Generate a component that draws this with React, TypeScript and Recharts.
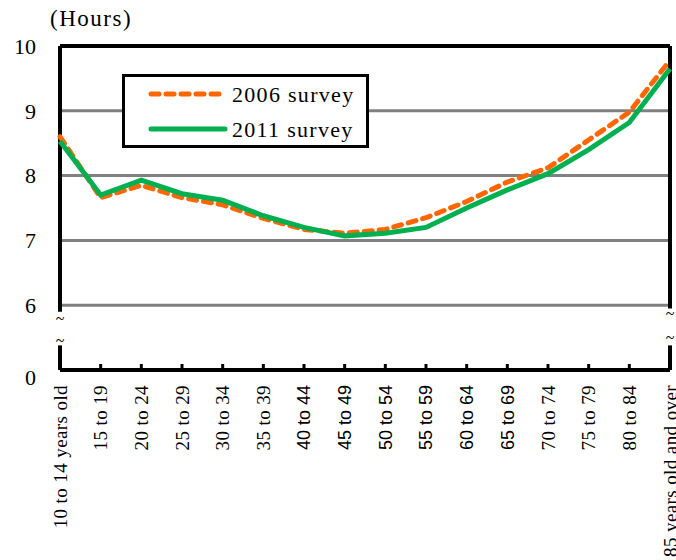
import React from 'react';
import {
  LineChart,
  Line,
  XAxis,
  YAxis,
  CartesianGrid,
  ReferenceLine,
  ReferenceDot,
  Legend,
} from 'recharts';

const ageGroups = [
  '10 to 14 years old',
  '15 to 19',
  '20 to 24',
  '25 to 29',
  '30 to 34',
  '35 to 39',
  '40 to 44',
  '45 to 49',
  '50 to 54',
  '55 to 59',
  '60 to 64',
  '65 to 69',
  '70 to 74',
  '75 to 79',
  '80 to 84',
  '85 years old and over',
];
const survey2006 = [8.6, 7.66, 7.85, 7.66, 7.55, 7.34, 7.17, 7.11, 7.17, 7.35, 7.6, 7.9, 8.12, 8.55, 8.98, 9.78];
const survey2011 = [8.53, 7.7, 7.93, 7.72, 7.62, 7.38, 7.2, 7.07, 7.11, 7.2, 7.5, 7.78, 8.03, 8.4, 8.82, 9.65];
const yTicks = [5, 6, 7, 8, 9, 10];
// these labels came out in a sans face in the original
const sansLabels = ['40 to 44', '45 to 49', '50 to 54', '55 to 59', '60 to 64', '65 to 69'];

const serif = '"Liberation Serif", "Times New Roman", serif';
const sans = '"Liberation Sans", Arial, sans-serif';
const ORANGE = '#FF6600';
const GREEN = '#00B050';

const data = ageGroups.map((age, i) => ({ age, s2006: survey2006[i], s2011: survey2011[i] }));
const first = ageGroups[0];
const last = ageGroups[ageGroups.length - 1];

const AgeTick = (props: any) => {
  const { x, y, payload } = props;
  const isSans = sansLabels.includes(payload.value);
  const ty = y + 15;
  return (
    <g>
      <line x1={x} y1={y - 6} x2={x} y2={y} stroke="#000" strokeWidth={3} />
      <text
        x={x}
        y={ty}
        transform={`rotate(-90 ${x} ${ty})`}
        textAnchor="end"
        dy="0.35em"
        fill="#000"
        fontFamily={isSans ? sans : serif}
        fontSize={isSans ? 18 : 19}
        letterSpacing={isSans ? 0 : 0.4}
      >
        {payload.value}
      </text>
    </g>
  );
};

const HourTick = (props: any) => {
  const { x, y, payload } = props;
  const v = payload.value;
  return (
    <text x={x} y={y + (v === 5 ? 7 : 0)} dy="0.35em" textAnchor="end" fill="#000" fontFamily={serif} fontSize={22}>
      {v === 5 ? '0' : String(v)}
    </text>
  );
};

const Tilde = (props: any) => (
  <text x={props.cx} y={props.cy} dy="0.35em" textAnchor="middle" fontFamily={serif} fontSize={16} fill="#000">
    ~
  </text>
);

const LegendBox = () => (
  <div style={{ width: 241, height: 68, border: '3px solid #000', background: '#fff' }}>
    <svg width={241} height={68} style={{ display: 'block' }}>
      <line x1={26} y1={17} x2={100} y2={17} stroke={ORANGE} strokeWidth={5} strokeDasharray="8 7" strokeLinecap="round" />
      <line x1={26} y1={52} x2={100} y2={52} stroke={GREEN} strokeWidth={5} strokeLinecap="round" />
      <text x={107} y={17} dy="0.35em" fontFamily={serif} fontSize={22} letterSpacing={1.3} fill="#000">2006 survey</text>
      <text x={107} y={52} dy="0.35em" fontFamily={serif} fontSize={22} letterSpacing={1.3} fill="#000">2011 survey</text>
    </svg>
  </div>
);

export default function App() {
  return (
    <div style={{ position: 'absolute', left: 0, top: 0, width: 676, height: 560, background: '#fff' }}>
      <div
        style={{
          position: 'absolute',
          left: 50,
          top: 6,
          fontFamily: serif,
          fontSize: 23,
          letterSpacing: 1.5,
          color: '#000',
          zIndex: 2,
        }}
      >
        (Hours)
      </div>
      <LineChart width={676} height={560} data={data} margin={{ top: 46, right: 6, bottom: 10, left: 0 }}>
        <CartesianGrid vertical={false} stroke="#808080" strokeWidth={3} />
        <XAxis
          dataKey="age"
          interval={0}
          height={180}
          tickSize={0}
          tickMargin={0}
          tickLine={false}
          axisLine={{ stroke: '#000', strokeWidth: 4 }}
          tick={<AgeTick />}
        />
        <YAxis
          type="number"
          domain={[5, 10]}
          ticks={yTicks}
          width={60}
          axisLine={false}
          tickLine={false}
          tickSize={0}
          tickMargin={24}
          tick={<HourTick />}
        />
        <ReferenceLine y={10} stroke="#000" strokeWidth={4} />
        <ReferenceLine segment={[{ x: first, y: 10 }, { x: first, y: 5.9 }]} stroke="#000" strokeWidth={4} />
        <ReferenceLine segment={[{ x: first, y: 5.38 }, { x: first, y: 5 }]} stroke="#000" strokeWidth={4} />
        <ReferenceLine segment={[{ x: last, y: 10 }, { x: last, y: 5.95 }]} stroke="#000" strokeWidth={4} />
        <ReferenceLine segment={[{ x: last, y: 5.38 }, { x: last, y: 5 }]} stroke="#000" strokeWidth={4} />
        <ReferenceDot x={first} y={5.8} shape={<Tilde />} />
        <ReferenceDot x={first} y={5.46} shape={<Tilde />} />
        <ReferenceDot x={last} y={5.88} shape={<Tilde />} />
        <ReferenceDot x={last} y={5.51} shape={<Tilde />} />
        <Line
          dataKey="s2006"
          name="2006 survey"
          stroke={ORANGE}
          strokeWidth={5}
          strokeDasharray="8 7"
          strokeLinecap="round"
          dot={false}
          isAnimationActive={false}
        />
        <Line
          dataKey="s2011"
          name="2011 survey"
          stroke={GREEN}
          strokeWidth={5}
          dot={false}
          isAnimationActive={false}
        />
        <Legend
          layout="vertical"
          align="center"
          verticalAlign="middle"
          content={<LegendBox />}
          wrapperStyle={{ left: 122, top: 74, width: 'auto' }}
        />
      </LineChart>
    </div>
  );
}
